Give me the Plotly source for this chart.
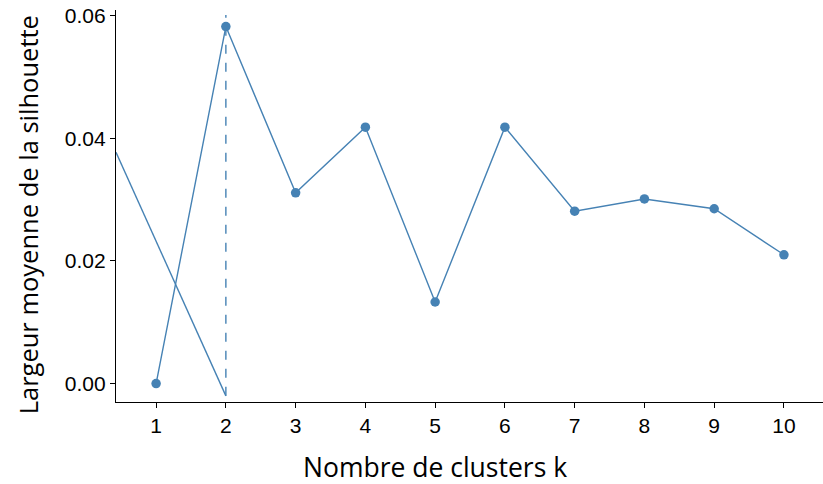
import plotly.graph_objects as go

k = [1, 2, 3, 4, 5, 6, 7, 8, 9, 10]
silhouette = [0.0000, 0.0582, 0.0311, 0.0418, 0.0133, 0.0418, 0.0281, 0.0301, 0.0285, 0.0210]
tick_labels = ["1", "2", "3", "4", "5", "6", "7", "8", "9", "10"]
optimal_k = 2
vline_y = [-0.0020, 0.0601]
diag_x = [0.425, 2]
diag_y = [0.0377, -0.0020]

color = "#4682B4"

fig = go.Figure()
fig.add_trace(go.Scatter(x=diag_x, y=diag_y, mode="lines",
                         line=dict(color=color, width=1.4), hoverinfo="skip"))
fig.add_trace(go.Scatter(x=[optimal_k, optimal_k], y=vline_y, mode="lines",
                         line=dict(color=color, width=1.4, dash="dash"), hoverinfo="skip"))
fig.add_trace(go.Scatter(x=k, y=silhouette, mode="lines+markers",
                         line=dict(color=color, width=1.4),
                         marker=dict(color=color, size=9.5)))

fig.update_layout(
    width=823, height=484,
    margin=dict(l=116, r=0, t=10, b=82, autoexpand=False),
    plot_bgcolor="white", paper_bgcolor="white",
    showlegend=False,
    font=dict(family="Liberation Sans, Arial", color="black"),
    annotations=[
        dict(text="Nombre de clusters k", xref="paper", yref="paper",
             x=0.451, y=-0.166, xanchor="center", yanchor="middle", showarrow=False,
             font=dict(size=26.5, family="Open Sans", color="black")),
        dict(text="Largeur moyenne de la silhouette", xref="paper", yref="paper",
             x=-0.124, y=0.477, xanchor="center", yanchor="middle", showarrow=False,
             textangle=-90,
             font=dict(size=25.5, family="Open Sans", color="black")),
    ],
)
fig.update_xaxes(
    range=[0.425, 10.56], tickvals=k, ticktext=tick_labels, automargin=False,
    showgrid=False, zeroline=False, showline=True, linecolor="black", linewidth=1.3,
    ticks="outside", ticklen=5, tickcolor="black", ticklabeloverflow="allow",
    tickfont=dict(size=21, family="Liberation Sans, Arial"),
)
fig.update_yaxes(
    range=[-0.0030, 0.0609], tickvals=[0, 0.02, 0.04, 0.06], automargin=False,
    ticktext=["0.00", "0.02", "0.04", "0.06"],
    showgrid=False, zeroline=False, showline=True, linecolor="black", linewidth=1.3,
    ticks="outside", ticklen=5, tickcolor="black", ticklabeloverflow="allow",
    tickfont=dict(size=21, family="Liberation Sans, Arial"),
)

fig.write_html("out.html",
               config={"displayModeBar": False},
               post_script="document.body.style.margin='0';document.body.style.overflow='hidden';")
